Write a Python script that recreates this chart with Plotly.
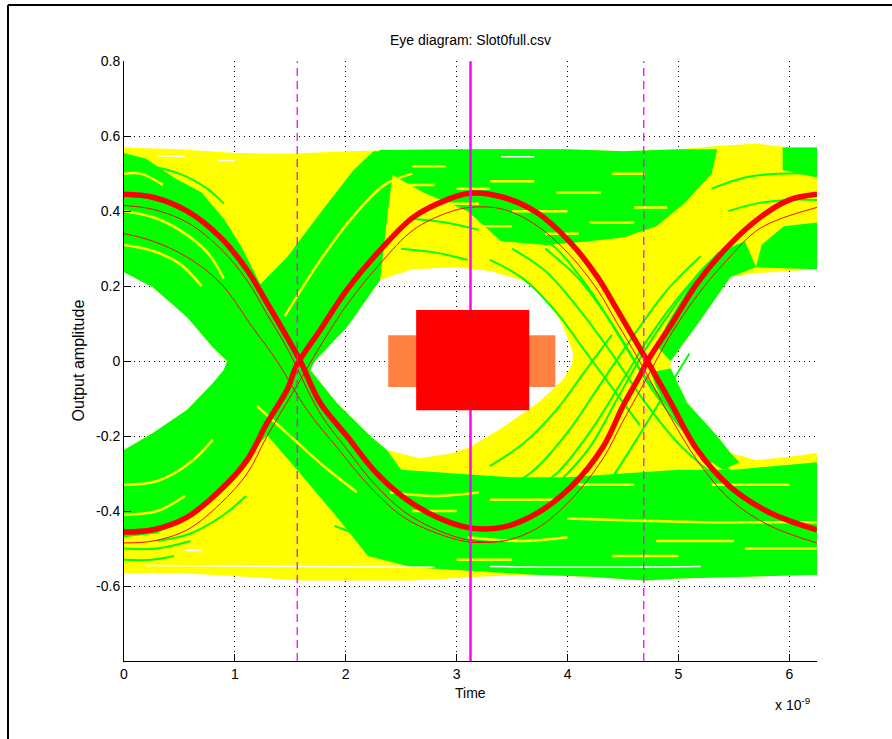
import plotly.graph_objects as go

# ---------------- data (time in ns, amplitude in V) ----------------
X_TICKS = [0, 1, 2, 3, 4, 5, 6]
Y_TICKS = [-0.6, -0.4, -0.2, 0, 0.2, 0.4, 0.6, 0.8]
Y_TICK_TEXT = ["-0.6", "-0.4", "-0.2", "0", "0.2", "0.4", "0.6", "0.8"]

# outer envelope of all eye traces
top_t = [0, 0.5, 1.0, 1.5, 2.0, 2.5, 3.0, 3.5, 4.0, 4.5, 5.0, 5.4, 5.7, 6.0, 6.25]
top_v = [0.57, 0.565, 0.555, 0.553, 0.56, 0.563, 0.565, 0.565, 0.565, 0.56, 0.565, 0.575, 0.58, 0.57, 0.57]
bot_t = [6.25, 5.5, 5.0, 4.7, 4.2, 3.7, 3.2, 2.6, 2.0, 1.6, 1.1, 0.5, 0]
bot_v = [-0.57, -0.575, -0.58, -0.585, -0.575, -0.57, -0.575, -0.585, -0.585, -0.585, -0.575, -0.565, -0.565]

# eye openings
left_eye_up_t = [0, 0.26, 0.57, 0.80, 0.93]
left_eye_up_v = [0.237, 0.197, 0.117, 0.037, 0.0]
left_eye_lo_t = [0, 0.26, 0.57, 0.80, 0.90]
left_eye_lo_v = [-0.237, -0.192, -0.13, -0.059, -0.024]

mid_eye_up_t = [1.72, 2.01, 2.31, 2.6, 3.0, 3.3, 3.6, 3.8, 3.95, 4.05]
mid_eye_up_v = [0.0, 0.09, 0.216, 0.245, 0.25, 0.24, 0.215, 0.17, 0.10, 0.02]
mid_eye_lo_t = [1.68, 1.92, 2.22, 2.37, 2.67, 2.97, 3.12, 3.42, 3.73, 3.96, 4.04]
mid_eye_lo_v = [-0.024, -0.112, -0.2, -0.237, -0.259, -0.245, -0.229, -0.176, -0.112, -0.05, -0.01]

right_eye_up_t = [4.93, 5.2, 5.47, 5.7, 6.0, 6.25]
right_eye_up_v = [0.0, 0.11, 0.224, 0.235, 0.24, 0.245]
right_eye_lo_t = [4.93, 5.08, 5.35, 5.47, 5.7, 6.0, 6.25]
right_eye_lo_v = [-0.02, -0.112, -0.2, -0.245, -0.264, -0.255, -0.245]

# green (second trace set) regions
g_cross_t = [0, 0.2, 0.45, 0.7, 0.9, 1.05, 1.23, 1.47, 1.77, 2.07, 2.25, 2.45, 2.38, 2.31,
             2.01, 1.72, 1.68, 1.92, 2.22, 2.37, 2.5, 3.0, 3.5, 4.0, 4.5, 5.0, 5.5, 6.25,
             6.25, 5.5, 5.0, 4.7, 4.2, 3.7, 3.2, 2.6, 2.2, 1.92, 1.56, 1.29,
             1.1, 0.9, 0.6, 0.3, 0]
g_cross_v = [0.555, 0.54, 0.49, 0.45, 0.38, 0.31, 0.205, 0.277, 0.395, 0.51, 0.56, 0.56, 0.40, 0.216,
             0.09, 0.0, -0.024, -0.112, -0.2, -0.237, -0.29, -0.30, -0.31, -0.31, -0.30, -0.29, -0.29, -0.27,
             -0.57, -0.575, -0.58, -0.585, -0.575, -0.57, -0.56, -0.55, -0.52, -0.416, -0.29, -0.197,
             -0.26, -0.33, -0.41, -0.46, -0.47]

g_topmid_t = [2.3, 3.0, 4.0, 4.5, 5.0, 5.35, 5.3, 5.05, 4.8, 4.5, 4.2, 3.8, 3.4, 3.1, 2.7, 2.4]
g_topmid_v = [0.563, 0.565, 0.565, 0.56, 0.565, 0.565, 0.50, 0.42, 0.36, 0.33, 0.32, 0.31, 0.32, 0.40, 0.45, 0.50]

g_corner_t = [5.94, 6.25, 6.25, 5.94]
g_corner_v = [0.57, 0.57, 0.49, 0.51]

g_rband_t = [5.7, 6.25, 6.25, 5.95, 5.75]
g_rband_v = [0.25, 0.245, 0.37, 0.36, 0.31]

g_x2lo_t = [4.75, 4.93, 5.08, 5.35, 5.47, 5.55, 5.4, 5.2, 5.0, 4.8]
g_x2lo_v = [-0.03, -0.02, -0.112, -0.2, -0.245, -0.27, -0.29, -0.25, -0.17, -0.07]

g_x2up_t = [4.8, 4.93, 5.2, 5.47, 5.7, 5.6, 5.35, 5.1, 4.9]
g_x2up_v = [0.04, 0.0, 0.11, 0.224, 0.25, 0.32, 0.29, 0.2, 0.1]

# green traces crossing over yellow areas
green_lines = [
    ([3.6, 3.9, 4.2, 4.5, 4.75, 5.0, 5.3], [0.36, 0.30, 0.19, 0.05, -0.07, -0.17, -0.27]),
    ([3.8, 4.1, 4.4, 4.65, 4.9, 5.2, 5.5], [0.30, 0.22, 0.10, -0.02, -0.12, -0.23, -0.30]),
    ([3.5, 3.8, 4.1, 4.4, 4.7, 5.0, 5.3], [0.30, 0.24, 0.14, 0.02, -0.11, -0.22, -0.30]),
    ([3.3, 3.6, 3.9, 4.15, 4.4, 4.65], [0.27, 0.22, 0.13, 0.03, -0.07, -0.17]),
    ([3.6, 3.9, 4.2, 4.5, 4.75, 5.0, 5.3], [-0.36, -0.30, -0.19, -0.05, 0.07, 0.17, 0.27]),
    ([3.9, 4.2, 4.45, 4.7, 4.95, 5.2, 5.5], [-0.33, -0.23, -0.10, 0.03, 0.14, 0.24, 0.32]),
    ([3.4, 3.7, 4.0, 4.3, 4.6, 4.9, 5.2], [-0.35, -0.29, -0.19, -0.06, 0.07, 0.19, 0.28]),
    ([3.3, 3.6, 3.9, 4.15, 4.4], [-0.28, -0.22, -0.13, -0.03, 0.07]),
    ([4.1, 4.35, 4.6, 4.85, 5.1], [-0.40, -0.33, -0.22, -0.10, 0.02]),
    ([2.5, 2.8, 3.1], [0.30, 0.29, 0.27]),
    ([2.6, 2.9, 3.2], [0.38, 0.37, 0.35]),
    ([0, 0.3, 0.6], [-0.50, -0.50, -0.48]),
    ([0, 0.25, 0.45], [-0.53, -0.53, -0.52]),
    ([0.3, 0.6, 0.9, 1.1], [-0.48, -0.46, -0.41, -0.36]),
    ([1.9, 2.2, 2.6, 3.0], [-0.44, -0.47, -0.49, -0.50]),
    ([5.45, 5.7, 6.0, 6.25], [0.40, 0.42, 0.43, 0.43]),
    ([5.3, 5.6, 5.9, 6.25], [0.46, 0.49, 0.50, 0.50]),
    ([0.25, 0.5, 0.75, 0.9], [0.52, 0.50, 0.46, 0.42]),
]

# yellow traces running through green areas
yellow_lines = [
    ([0, 0.15, 0.35], [0.50, 0.50, 0.47]),
    ([0, 0.25, 0.5, 0.75, 0.9], [0.40, 0.385, 0.35, 0.29, 0.22]),
    ([0, 0.25, 0.5, 0.7], [0.31, 0.295, 0.26, 0.20]),
    ([0, 0.3, 0.6, 0.8], [-0.33, -0.32, -0.27, -0.21]),
    ([0, 0.3, 0.55], [-0.41, -0.40, -0.36]),
    ([1.45, 1.75, 2.05, 2.35, 2.6], [0.12, 0.26, 0.38, 0.47, 0.50]),
    ([2.6, 2.9], [0.52, 0.52]),
    ([3.3, 3.7], [0.48, 0.48]),
    ([3.9, 4.3], [0.45, 0.45]),
    ([2.9, 3.2], [0.42, 0.42]),
    ([3.5, 4.0], [0.40, 0.40]),
    ([4.2, 4.6], [0.37, 0.37]),
    ([3.2, 3.5], [0.36, 0.36]),
    ([4.4, 4.7], [0.50, 0.50]),
    ([3.0, 3.3], [0.46, 0.46]),
    ([4.6, 4.9], [0.41, 0.41]),
    ([3.8, 4.1], [0.34, 0.34]),
    ([2.5, 2.8], [0.47, 0.47]),
    ([4.0, 4.6, 5.2, 5.8, 6.25], [-0.42, -0.425, -0.43, -0.43, -0.43]),
    ([3.1, 3.6, 4.0], [-0.47, -0.48, -0.47]),
    ([2.4, 2.8, 3.2], [-0.35, -0.36, -0.35]),
    ([4.4, 5.0], [-0.52, -0.52]),
    ([5.3, 6.0], [-0.33, -0.33]),
    ([2.6, 3.0], [-0.40, -0.40]),
    ([3.3, 3.9], [-0.37, -0.37]),
    ([4.8, 5.5], [-0.48, -0.48]),
    ([5.6, 6.25], [-0.50, -0.50]),
    ([3.0, 3.5], [-0.53, -0.53]),
    ([4.1, 4.6], [-0.33, -0.33]),
    ([1.2, 1.5, 1.8, 2.1], [-0.12, -0.20, -0.28, -0.35]),
]

# gaps between traces (white streaks)
white_lines = [
    ([0.3, 0.55], [0.548, 0.546]),
    ([0.85, 1.0], [0.535, 0.535]),
    ([3.4, 3.7], [0.545, 0.545]),
    ([0.2, 1.5, 2.8], [-0.545, -0.548, -0.55]),
    ([3.3, 4.2, 5.2], [-0.548, -0.55, -0.548]),
    ([0.55, 0.7], [-0.505, -0.505]),
]

# mean / reference waveforms (red)
r1_t = [0, 0.26, 0.57, 0.87, 1.11, 1.29, 1.47, 1.59, 1.77, 2.01, 2.25, 2.52, 2.82, 3.12, 3.42, 3.73,
        4.03, 4.32, 4.5, 4.66, 4.72, 4.93, 5.17, 5.44, 5.74, 6.0, 6.25]
r1_v = [0.445, 0.437, 0.40, 0.33, 0.243, 0.155, 0.064, 0.0, -0.112, -0.2, -0.29, -0.363, -0.416, -0.445,
        -0.443, -0.405, -0.336, -0.229, -0.12, -0.035, 0.0, 0.095, 0.208, 0.304, 0.384, 0.43, 0.445]
r2_t = [0, 0.26, 0.57, 0.87, 1.11, 1.29, 1.47, 1.56, 1.77, 2.01, 2.31, 2.61, 2.91, 3.12, 3.42, 3.73,
        4.03, 4.27, 4.45, 4.63, 4.72, 4.93, 5.17, 5.47, 5.83, 6.25]
r2_v = [-0.456, -0.45, -0.416, -0.344, -0.264, -0.165, -0.077, -0.01, 0.083, 0.19, 0.296, 0.384, 0.43,
        0.448, 0.437, 0.395, 0.315, 0.224, 0.136, 0.045, 0.0, -0.11, -0.237, -0.336, -0.405, -0.45]
ta_t = [0, 0.26, 0.57, 0.87, 1.11, 1.29, 1.47, 1.77, 2.01, 2.25, 2.52, 2.82, 3.12, 3.42, 3.73, 4.03,
        4.32, 4.5, 4.66, 4.93, 5.17, 5.44, 5.74, 6.25]
ta_v = [0.415, 0.405, 0.37, 0.30, 0.215, 0.125, 0.035, -0.14, -0.235, -0.325, -0.40, -0.45, -0.478,
        -0.48, -0.445, -0.37, -0.26, -0.16, -0.075, 0.07, 0.175, 0.27, 0.355, 0.41]
tb_t = [0, 0.26, 0.57, 0.87, 1.11, 1.29, 1.47, 1.65, 1.77, 2.01, 2.31, 2.61, 2.91, 3.12, 3.42, 3.73,
        4.03, 4.27, 4.45, 4.63, 4.93, 5.17, 5.47, 5.83, 6.25]
tb_v = [-0.485, -0.48, -0.45, -0.38, -0.30, -0.20, -0.11, -0.02, 0.04, 0.15, 0.26, 0.35, 0.395, 0.41,
        0.405, 0.36, 0.28, 0.19, 0.10, 0.01, -0.15, -0.265, -0.37, -0.44, -0.485]
tc_t = [0, 0.26, 0.57, 0.87, 1.16, 1.38, 1.65, 1.92, 2.22, 2.52, 2.82, 3.12, 3.42]
tc_v = [0.34, 0.32, 0.277, 0.208, 0.09, 0.0, -0.13, -0.23, -0.336, -0.416, -0.459, -0.483, -0.48]

# sampling instants (magenta markers)
half_bit_marks = [1.5625, 4.6875]
bit_centre_mark = [3.125]

# eye mask rectangles
mask_inner_t = [2.635, 3.655]
mask_inner_v = [-0.131, 0.136]
mask_outer_t = [2.383, 3.89]
mask_outer_v = [-0.069, 0.069]

Y_MIN, Y_MAX = -0.8, 0.8
X_MIN, X_MAX = 0, 6.25

YELLOW = "#FFFF00"
GREEN = "#00FF00"
RED = "#FF0000"
MAGENTA = "#FF00FF"
ORANGE = "#FF8040"

# ---------------- build figure ----------------
fig = go.Figure()

# yellow envelope: outer boundary (clockwise) with middle eye hole (counter clockwise)
ex = ([left_eye_up_t[0]] + top_t + [X_MAX] + right_eye_up_t[::-1] + right_eye_lo_t + bot_t +
      [0] + left_eye_lo_t + left_eye_up_t[::-1])
ey = ([left_eye_up_v[0]] + top_v + [right_eye_up_v[-1]] + right_eye_up_v[::-1] + right_eye_lo_v + bot_v +
      [left_eye_lo_v[0]] + left_eye_lo_v + left_eye_up_v[::-1])
hx = mid_eye_lo_t + mid_eye_up_t[::-1]
hy = mid_eye_lo_v + mid_eye_up_v[::-1]
fig.add_trace(go.Scatter(x=ex + [None] + hx, y=ey + [None] + hy, mode="lines", fill="toself",
                         fillcolor=YELLOW, line=dict(width=0, color=YELLOW), hoverinfo="skip"))

# green cross polygon must also skip the left eye
gx = g_cross_t + left_eye_lo_t + left_eye_up_t[::-1]
gy = g_cross_v + left_eye_lo_v + left_eye_up_v[::-1]
for px_, py_ in [(gx, gy), (g_topmid_t, g_topmid_v), (g_corner_t, g_corner_v),
                 (g_rband_t, g_rband_v), (g_x2lo_t, g_x2lo_v), (g_x2up_t, g_x2up_v)]:
    fig.add_trace(go.Scatter(x=px_, y=py_, mode="lines", fill="toself", fillcolor=GREEN,
                             line=dict(width=0, color=GREEN), hoverinfo="skip"))


def joined(lines):
    xs, ys = [], []
    for lx, ly in lines:
        xs += lx + [None]
        ys += ly + [None]
    return xs, ys


for lines, col, w in [(green_lines, GREEN, 2), (yellow_lines, YELLOW, 2.5), (white_lines, "white", 1.5)]:
    xs, ys = joined(lines)
    fig.add_trace(go.Scatter(x=xs, y=ys, mode="lines", line=dict(color=col, width=w, shape="spline"),
                             connectgaps=False, hoverinfo="skip"))

# thin red waveforms
for tx, tv in [(ta_t, ta_v), (tb_t, tb_v), (tc_t, tc_v)]:
    fig.add_trace(go.Scatter(x=tx, y=tv, mode="lines", line=dict(color=RED, width=1, shape="spline"),
                             hoverinfo="skip"))
# thick red waveforms
for tx, tv in [(r1_t, r1_v), (r2_t, r2_v)]:
    fig.add_trace(go.Scatter(x=tx, y=tv, mode="lines", line=dict(color=RED, width=5.5, shape="spline"),
                             hoverinfo="skip"))

# magenta sampling lines
for m in half_bit_marks:
    fig.add_trace(go.Scatter(x=[m, m], y=[Y_MIN, Y_MAX], mode="lines",
                             line=dict(color=MAGENTA, width=1.3, dash="8px,5px"), hoverinfo="skip"))
for m in bit_centre_mark:
    fig.add_trace(go.Scatter(x=[m, m], y=[Y_MIN, Y_MAX], mode="lines",
                             line=dict(color=MAGENTA, width=2.5), hoverinfo="skip"))


def rect(tt, vv):
    return [tt[0], tt[1], tt[1], tt[0], tt[0]], [vv[0], vv[0], vv[1], vv[1], vv[0]]


for tt, vv, col in [(mask_outer_t, mask_outer_v, ORANGE), (mask_inner_t, mask_inner_v, RED)]:
    rx, ry = rect(tt, vv)
    fig.add_trace(go.Scatter(x=rx, y=ry, mode="lines", fill="toself", fillcolor=col,
                             line=dict(width=0, color=col), hoverinfo="skip"))

FONT = dict(family="Liberation Sans, Arial, sans-serif", size=14, color="black")

fig.update_layout(
    width=892, height=739,
    margin=dict(l=124, r=75, t=61, b=78),
    paper_bgcolor="white", plot_bgcolor="white",
    showlegend=False,
    font=FONT,
    xaxis=dict(range=[X_MIN, X_MAX], tickvals=X_TICKS, ticktext=[str(v) for v in X_TICKS],
               ticks="inside", ticklen=7, tickcolor="black", tickwidth=1,
               showline=True, linecolor="black", linewidth=1,
               showgrid=True, gridcolor="black", gridwidth=1, griddash="1px,4px",
               zeroline=False, tickfont=FONT),
    yaxis=dict(range=[Y_MIN, Y_MAX + 0.0005], tickvals=Y_TICKS, ticktext=Y_TICK_TEXT,
               ticks="inside", ticklen=7, tickcolor="black", tickwidth=1,
               showline=True, linecolor="black", linewidth=1,
               showgrid=True, gridcolor="black", gridwidth=1, griddash="1px,4px",
               zeroline=False, tickfont=FONT),
    annotations=[
        dict(text="Eye diagram: Slot0full.csv", xref="paper", yref="paper", x=0.5, y=1.035,
             showarrow=False, font=FONT, xanchor="center", yanchor="middle"),
        dict(text="Time", xref="paper", yref="paper", x=0.5, y=-0.054,
             showarrow=False, font=FONT, xanchor="center", yanchor="middle"),
        dict(text="Output amplitude", xref="paper", yref="paper", x=-0.067, y=0.5, textangle=-90,
             showarrow=False, font=dict(FONT, size=16), xanchor="center", yanchor="middle"),
        dict(text="x 10<sup>-9</sup>", xref="paper", yref="paper", x=0.965, y=-0.072,
             showarrow=False, font=FONT, xanchor="center", yanchor="middle"),
    ],
    shapes=[
        dict(type="line", xref="paper", yref="paper", x0=-0.1674, x1=-0.1674, y0=1.0933, y1=-0.3,
             line=dict(color="black", width=2)),
        dict(type="line", xref="paper", yref="paper", x0=-0.1674, x1=1.2, y0=1.0933, y1=1.0933,
             line=dict(color="black", width=2)),
    ],
)

fig.write_html("out.html", config={"displayModeBar": False},
               post_script="document.body.style.margin='0px';document.body.style.overflow='hidden';")
